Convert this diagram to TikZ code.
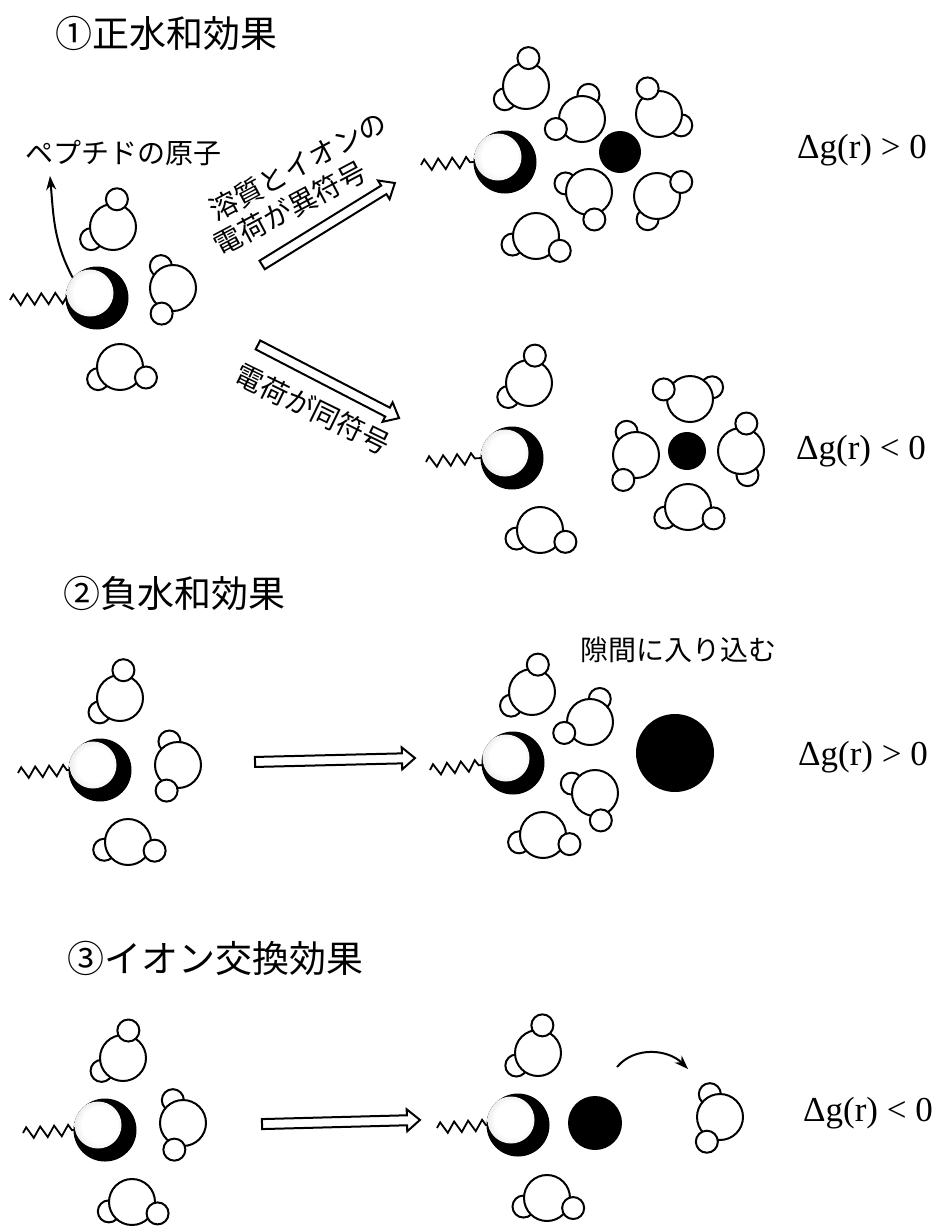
\documentclass[tikz,border=0pt]{standalone}
\usepackage{fontspec}
\setmainfont{Liberation Serif}
\newfontfamily\jp{Noto Sans CJK JP}
\usetikzlibrary{arrows.meta,calc,decorations.pathmorphing}

\pgfdeclareradialshading{atomshade}{\pgfpoint{-6bp}{6bp}}{color(0bp)=(white); color(14bp)=(white); color(34bp)=(black!22); color(50bp)=(black!55)}

% water: name, O position, front H angle, back H angle
\newcommand{\water}[4]{%
  \node[hatom] (#1b) at ($#2+(#4:25pt)$) {};
  \node[oatom] (#1) at #2 {};
  \node[hatom] (#1a) at ($#2+(#3:28pt)$) {};
}

% open block arrow: name, centre, angle, length
\newcommand{\hollowarrow}[4]{%
  \begin{scope}[shift={#2},rotate=#3]
    \coordinate (#1) at (0,0);
    \draw[bigarrow] ({-#4/2},-5) -- ({#4/2-13},-5) -- ({#4/2-13},-11) -- ({#4/2},0)
      -- ({#4/2-13},11) -- ({#4/2-13},5) -- ({-#4/2},5) -- cycle;
  \end{scope}
}

\begin{document}
\begin{tikzpicture}[x=1pt,y=-1pt,>=Stealth,
  oatom/.style={circle,draw,fill=white,line width=2pt,minimum size=46pt,inner sep=0},
  hatom/.style={oatom,minimum size=22pt},
  peptide/.style={circle,fill=black,minimum size=63pt,inner sep=0,
    path picture={\shade[shading=atomshade] ([shift={(-7pt,5pt)}]path picture bounding box.center) circle (23.5pt);}},
  ion/.style={circle,fill=black,inner sep=0},
  sidechain/.style={line width=1.8pt,decorate,decoration={zigzag,segment length=14pt,amplitude=5.5pt}},
  bigarrow/.style={draw,fill=white,line width=2pt,line join=miter},
  curlarrow/.style={line width=2pt,-{Stealth[length=14pt,width=10pt]}},
  heading/.style={font=\jp\fontsize{37}{44}\selectfont,anchor=west,inner sep=0},
  smalltext/.style={font=\jp\fontsize{28}{34}\selectfont,inner sep=0},
  dg/.style={font=\fontsize{35}{40}\selectfont,inner sep=0}]
  \useasboundingbox (0,0) rectangle (945,1229);

  % (1)
  \node[heading] (t1) at (55,33) {①正水和効果};
  \node[smalltext] (lab) at (123,153) {ペプチドの原子};
  \draw[sidechain] (10,300) -- (66,298);
  \node[peptide] (p1) at (97,298) {};
  \water{w11}{(113,227)}{82}{209}
  \water{w12}{(173,288)}{246}{119}
  \water{w13}{(120,367)}{-22}{209}
  \coordinate (labtip) at (50,176);
  \draw[curlarrow] (p1.140) to[out=118,in=-85] (labtip);

  \hollowarrow{a1}{(328.5,224)}{31.7}{156}
  \node[smalltext,rotate=28] (u1) at (298,166) {溶質とイオンの};
  \node[smalltext,rotate=28] (u2) at (290,208) {電荷が異符号};
  \hollowarrow{a2}{(328.5,381.5)}{-27.4}{159}
  \node[smalltext,rotate=-26] (d1) at (313,409) {電荷が同符号};

  \draw[sidechain] (421,165) -- (474,162);
  \node[peptide] (p2) at (505,162) {};
  \node[ion,minimum size=42pt] (i1) at (620,152) {};
  \water{w21}{(526,86)}{85}{212}
  \water{w22}{(582,119)}{201}{75}
  \water{w23}{(659,114)}{114}{-27}
  \water{w24}{(589,192)}{-79}{160}
  \water{w25}{(657,196)}{30}{248}
  \water{w26}{(536,236)}{-32}{200}
  \node[dg] (g1) at (862,150) {Δg(r) > 0};

  \draw[sidechain] (426,462) -- (481,458);
  \node[peptide] (p3) at (512,458) {};
  \water{w31}{(529,383)}{78}{214}
  \water{w32}{(540,530)}{-25}{200}
  \node[ion,minimum size=38pt] (i2) at (687,451) {};
  \water{w33}{(690,399)}{160}{28}
  \water{w34}{(636,455)}{243}{112}
  \water{w35}{(741,451)}{79}{-75}
  \water{w36}{(688,507)}{-24}{205}
  \node[dg] (g2) at (861,451) {Δg(r) < 0};

  % (2)
  \node[heading] (t2) at (63,593) {②負水和効果};
  \draw[sidechain] (18,773) -- (69,770);
  \node[peptide] (p4) at (100,770) {};
  \water{w41}{(120,698)}{83}{215}
  \water{w42}{(178,765)}{246}{110}
  \water{w43}{(128,842)}{-18}{198}
  \hollowarrow{a3}{(335,760)}{1.4}{160}

  \draw[sidechain] (430,770) -- (482,765);
  \node[peptide] (p5) at (513,763) {};
  \water{w51}{(532,692)}{78}{213}
  \water{w52}{(590,722)}{203}{67}
  \water{w53}{(595,793)}{-78}{158}
  \water{w54}{(543,835)}{-19}{197}
  \node[ion,minimum size=78pt] (i3) at (675,753) {};
  \node[smalltext] (gap) at (678,650) {隙間に入り込む};
  \node[dg] (g3) at (863,757) {Δg(r) > 0};

  % (3)
  \node[heading] (t3) at (67,958) {③イオン交換効果};
  \draw[sidechain] (23,1133) -- (74,1130);
  \node[peptide] (p6) at (105,1130) {};
  \water{w61}{(123,1058)}{79}{211}
  \water{w62}{(183,1123)}{252}{114}
  \water{w63}{(132,1202)}{-24}{202}
  \hollowarrow{a4}{(341,1122)}{1.5}{158}

  \draw[sidechain] (437,1128) -- (487,1125);
  \node[peptide] (p7) at (518,1125) {};
  \node[ion,minimum size=54pt] (i4) at (595,1123) {};
  \water{w71}{(538,1053)}{81}{210}
  \water{w72}{(547,1198)}{-21}{200}
  \water{w73}{(720,1117)}{242}{114}
  \coordinate (swa) at (617,1067);
  \coordinate (swb) at (688,1069);
  \draw[curlarrow] (swa) to[out=50,in=135] (swb);
  \node[dg] (g4) at (868,1113) {Δg(r) < 0};
\end{tikzpicture}
\end{document}
